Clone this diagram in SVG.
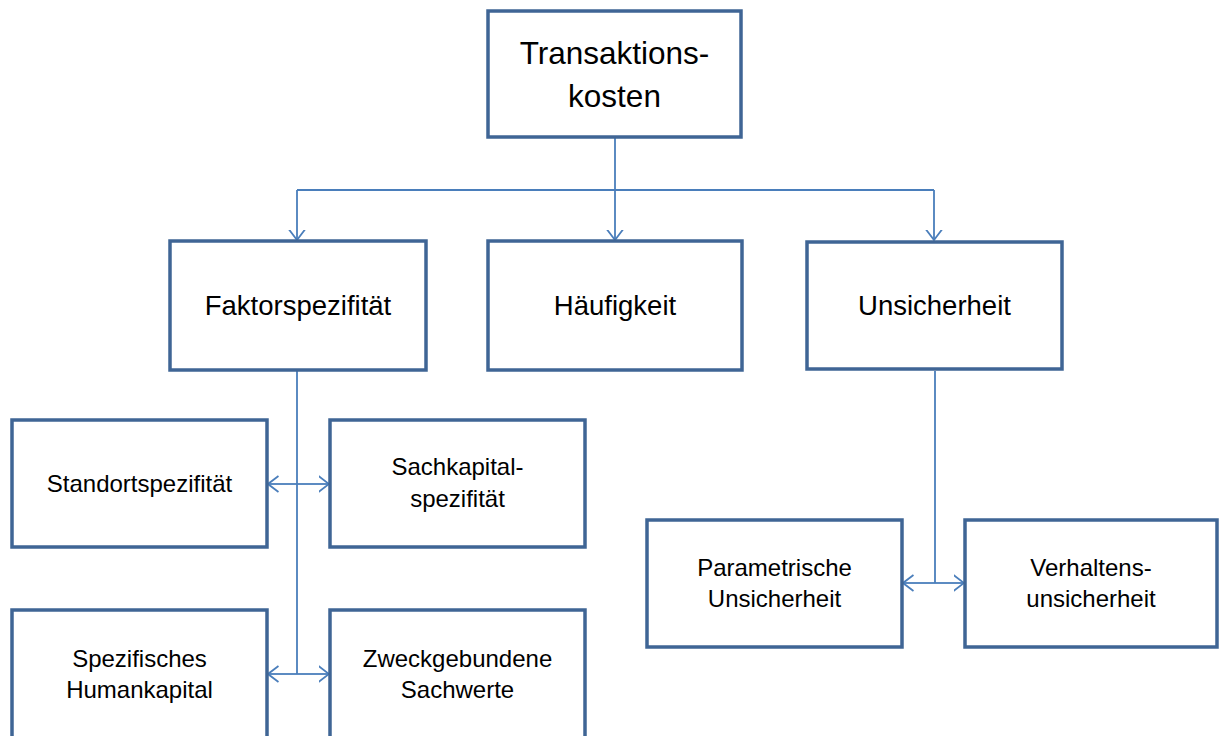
<svg xmlns="http://www.w3.org/2000/svg" width="1219" height="736" viewBox="0 0 1219 736">
<defs>
<style>
.box{fill:#fff;stroke:#3f6595;stroke-width:3.5}
.con{fill:none;stroke:#4a7ebb;stroke-width:1.8}
.t{font-family:"Liberation Sans",Arial,sans-serif;fill:#000;text-anchor:middle}
.t1{font-size:31.5px}
.t2{font-size:27.5px}
.t3{font-size:24px}
</style>
<marker id="ah" viewBox="0 0 11 18" refX="10.5" refY="9" markerWidth="11" markerHeight="18" markerUnits="userSpaceOnUse" orient="auto">
<path d="M0,1 L10.5,9 L0,17" fill="none" stroke="#4a7ebb" stroke-width="1.8"/>
</marker>
</defs>
<rect width="1219" height="736" fill="#fff"/>
<g id="connectors">
<path class="con" d="M615,138 V240" marker-end="url(#ah)"/>
<path class="con" d="M297,190 H934"/>
<path class="con" d="M297,190 V240" marker-end="url(#ah)"/>
<path class="con" d="M934,190 V240" marker-end="url(#ah)"/>
<path class="con" d="M297,371 V674"/>
<path class="con" d="M297,484 H268" marker-end="url(#ah)"/>
<path class="con" d="M297,484 H329" marker-end="url(#ah)"/>
<path class="con" d="M297,674 H268" marker-end="url(#ah)"/>
<path class="con" d="M297,674 H329" marker-end="url(#ah)"/>
<path class="con" d="M935,371 V583"/>
<path class="con" d="M935,583 H903" marker-end="url(#ah)"/>
<path class="con" d="M935,583 H964" marker-end="url(#ah)"/>
</g>
<g id="transaktionskosten">
<rect class="box" x="488" y="11" width="253" height="126"/>
<text class="t t1" x="614.5" y="64">Transaktions-</text>
<text class="t t1" x="614.5" y="107">kosten</text>
</g>
<g id="faktorspezifitaet">
<rect class="box" x="170" y="241" width="256" height="129"/>
<text class="t t2" x="298" y="315">Faktorspezifität</text>
</g>
<g id="haeufigkeit">
<rect class="box" x="488" y="241" width="254" height="129"/>
<text class="t t2" x="615" y="315">Häufigkeit</text>
</g>
<g id="unsicherheit">
<rect class="box" x="807" y="242" width="255" height="127"/>
<text class="t t2" x="934.5" y="315">Unsicherheit</text>
</g>
<g id="standortspezifitaet">
<rect class="box" x="12" y="420" width="255" height="127"/>
<text class="t t3" x="139.5" y="492">Standortspezifität</text>
</g>
<g id="sachkapitalspezifitaet">
<rect class="box" x="330" y="420" width="255" height="127"/>
<text class="t t3" x="457.5" y="475">Sachkapital-</text>
<text class="t t3" x="457.5" y="507">spezifität</text>
</g>
<g id="humankapital">
<rect class="box" x="12" y="610" width="255" height="140"/>
<text class="t t3" x="139.5" y="667">Spezifisches</text>
<text class="t t3" x="139.5" y="698">Humankapital</text>
</g>
<g id="sachwerte">
<rect class="box" x="330" y="610" width="255" height="140"/>
<text class="t t3" x="457.5" y="667">Zweckgebundene</text>
<text class="t t3" x="457.5" y="698">Sachwerte</text>
</g>
<g id="parametrische">
<rect class="box" x="647" y="520" width="255" height="127"/>
<text class="t t3" x="774.5" y="576">Parametrische</text>
<text class="t t3" x="774.5" y="607">Unsicherheit</text>
</g>
<g id="verhaltensunsicherheit">
<rect class="box" x="965" y="520" width="252" height="127"/>
<text class="t t3" x="1091" y="576">Verhaltens-</text>
<text class="t t3" x="1091" y="607">unsicherheit</text>
</g>
</svg>
